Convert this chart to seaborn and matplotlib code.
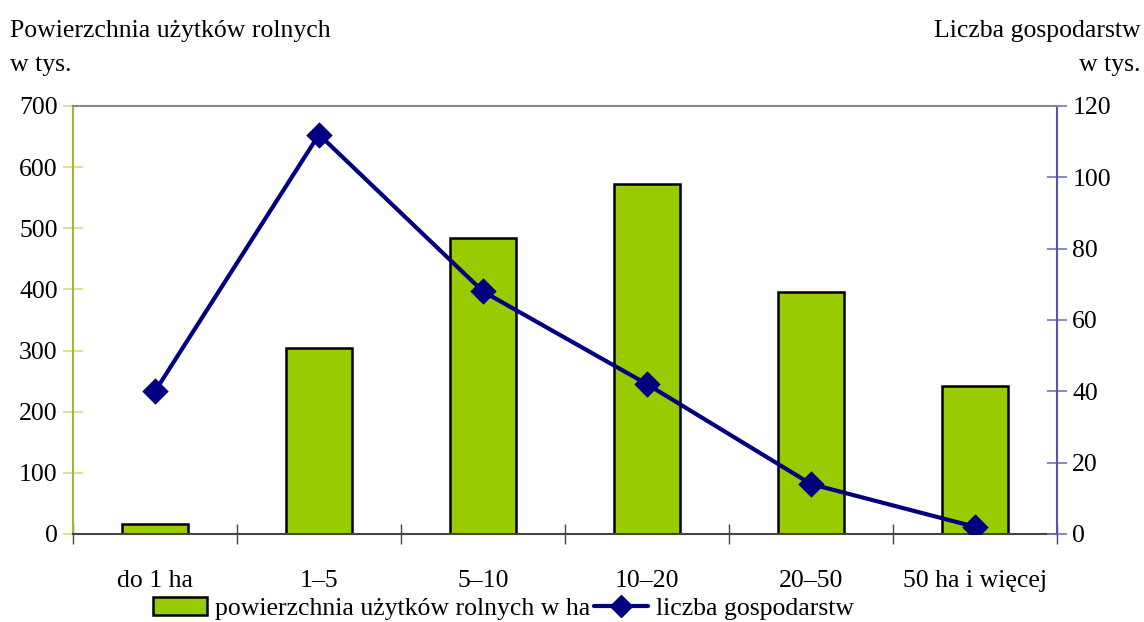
import numpy as np
import pandas as pd
import matplotlib
matplotlib.use('Agg')
import matplotlib.pyplot as plt
import seaborn as sns
from matplotlib.patches import Patch
from matplotlib.lines import Line2D

# data
categories = ["do 1 ha", "1–5", "5–10", "10–20", "20–50", "50 ha i więcej"]
area_ths = [16, 304, 484, 573, 396, 242]        # left axis, powierzchnia
farms_ths = [40, 112, 68, 42, 14, 2]            # right axis, liczba gospodarstw

bar_color = "#99cc00"
line_color = "#000080"
fs = 18.5

sns.set_theme(style="white")
plt.rcParams['font.family'] = ['Liberation Serif', 'DejaVu Serif']
plt.rcParams['font.size'] = fs
plt.rcParams['text.color'] = 'black'
plt.rcParams['xtick.labelcolor'] = 'black'
plt.rcParams['ytick.labelcolor'] = 'black'

df = pd.DataFrame({"cat": categories, "area": area_ths, "farms": farms_ths})

fig = plt.figure(figsize=(11.44, 6.22), dpi=100)
ax = fig.add_axes([0.0638, 0.1415, 0.8602, 0.6881])

sns.barplot(data=df, x="cat", y="area", color=bar_color, width=0.4,
            edgecolor="black", linewidth=1.8, saturation=1, ax=ax)
ax.set_ylim(0, 700)
ax.set_xlim(-0.5, 5.5)
ax.set_yticks(range(0, 701, 100))
ax.set_xlabel("")
ax.set_ylabel("")

ax2 = ax.twinx()
sns.pointplot(data=df, x="cat", y="farms", color=line_color, markers="D",
              markersize=11, linewidth=3, ax=ax2)
ax2.set_ylim(0, 120)
ax2.set_xlim(-0.5, 5.5)
ax2.set_yticks(range(0, 121, 20))
ax2.set_ylabel("")

# spines like the original
for a in (ax, ax2):
    for s in a.spines.values():
        s.set_visible(False)
ax2.spines["top"].set_visible(True)
ax2.spines["top"].set_color("#888888")
ax2.spines["top"].set_linewidth(1.5)
ax.spines["left"].set_visible(True)
ax.spines["left"].set_color("#99bb33")
ax.spines["left"].set_linewidth(1.5)
ax2.spines["right"].set_visible(True)
ax2.spines["right"].set_color("#5555aa")
ax2.spines["right"].set_linewidth(1.5)
ax.spines["bottom"].set_visible(True)
ax.spines["bottom"].set_color("#444444")
ax.spines["bottom"].set_linewidth(1.5)

ax.tick_params(axis="y", direction="inout", length=14, width=1.2,
               color="#c8e080", labelsize=fs, labelcolor="black", pad=4, left=True)
ax2.tick_params(axis="y", direction="inout", length=14, width=1.2,
                color="#7777bb", labelsize=fs, labelcolor="black", pad=4, right=True)
# category ticks sit between the bars
ax.set_xticks(np.arange(6))
ax.set_xticklabels(categories)
ax.set_xticks(np.arange(-0.5, 6.0, 1), minor=True)
ax.tick_params(axis="x", which="major", length=0, labelsize=fs,
               labelcolor="black", pad=26)
ax.tick_params(axis="x", which="minor", direction="inout", length=14,
               width=1.0, color="#444444", bottom=True)

fig.text(0.009, 0.95, "Powierzchnia użytków rolnych", ha="left", va="center", fontsize=fs)
fig.text(0.009, 0.895, "w tys.", ha="left", va="center", fontsize=fs)
fig.text(0.997, 0.95, "Liczba gospodarstw", ha="right", va="center", fontsize=fs)
fig.text(0.997, 0.895, "w tys.", ha="right", va="center", fontsize=fs)

handles = [Patch(facecolor=bar_color, edgecolor="black", linewidth=1.8),
           Line2D([0], [0], color=line_color, lw=3, marker="D", markersize=11)]
fig.legend(handles, ["powierzchnia użytków rolnych w ha", "liczba gospodarstw"],
           loc="center", bbox_to_anchor=(0.44, 0.022), ncol=2, frameon=False,
           fontsize=fs, handlelength=2.1, columnspacing=0.15, handletextpad=0.3,
           borderpad=0)

fig.savefig("out.png", dpi=100)
